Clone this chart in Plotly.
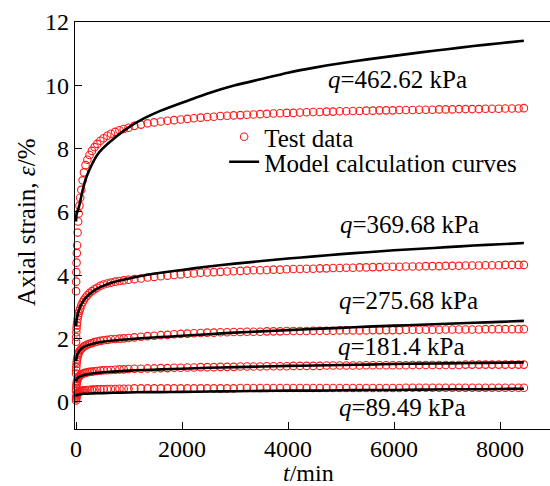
import plotly.graph_objects as go

# ---------------- data ----------------
t_test = [1, 3, 6, 10, 15, 20, 30, 40, 50, 65, 80, 100, 125, 150, 180, 215, 255, 300,
          350, 400, 460, 520, 590, 660, 740, 820, 900, 990,
          1100, 1225, 1350, 1475, 1600, 1725, 1850, 1975, 2100, 2225, 2350, 2475,
          2600, 2725, 2850, 2975, 3100, 3225, 3350, 3475, 3600, 3725, 3850, 3975,
          4100, 4225, 4350, 4475, 4600, 4725, 4850, 4975, 5100, 5225, 5350, 5475,
          5600, 5725, 5850, 5975, 6100, 6225, 6350, 6475, 6600, 6725, 6850, 6975,
          7100, 7225, 7350, 7475, 7600, 7725, 7850, 7975, 8100, 8225, 8350, 8450]

test_462 = [3.5, 3.8, 4.1, 4.4, 4.7, 4.95, 5.35, 5.7, 5.95, 6.2, 6.45, 6.7, 7.0, 7.25,
            7.48, 7.65, 7.8, 7.93, 8.05, 8.15, 8.25, 8.33, 8.41, 8.47, 8.53, 8.58, 8.62, 8.66,
            8.72, 8.76, 8.8, 8.83, 8.86, 8.88, 8.9, 8.92, 8.94, 8.96, 8.98, 9.0,
            9.01, 9.03, 9.04, 9.05, 9.06, 9.07, 9.08, 9.09, 9.1, 9.11, 9.12, 9.13,
            9.13, 9.14, 9.15, 9.16, 9.16, 9.17, 9.17, 9.18, 9.18, 9.19, 9.19, 9.2,
            9.2, 9.21, 9.21, 9.21, 9.22, 9.22, 9.22, 9.23, 9.23, 9.23, 9.24, 9.24,
            9.24, 9.25, 9.25, 9.25, 9.25, 9.26, 9.26, 9.26, 9.27, 9.27, 9.27, 9.28]

test_369 = [1.9, 2.05, 2.2, 2.32, 2.42, 2.5, 2.62, 2.72, 2.8, 2.88, 2.95, 3.05, 3.15, 3.23,
            3.3, 3.37, 3.44, 3.5, 3.56, 3.61, 3.67, 3.71, 3.74, 3.77, 3.8, 3.82, 3.84, 3.86,
            3.88, 3.9, 3.93, 3.95, 3.97, 3.99, 4.01, 4.03, 4.05, 4.06, 4.08, 4.09,
            4.1, 4.11, 4.12, 4.13, 4.14, 4.15, 4.16, 4.16, 4.17, 4.18, 4.18, 4.19,
            4.2, 4.2, 4.21, 4.21, 4.22, 4.22, 4.23, 4.23, 4.24, 4.24, 4.25, 4.25,
            4.26, 4.26, 4.27, 4.27, 4.27, 4.28, 4.28, 4.28, 4.29, 4.29, 4.29, 4.3,
            4.3, 4.3, 4.31, 4.31, 4.31, 4.32, 4.32, 4.32, 4.33, 4.33, 4.33, 4.33]

test_275 = [0.9, 1.0, 1.1, 1.2, 1.28, 1.35, 1.43, 1.5, 1.55, 1.6, 1.64, 1.68, 1.72, 1.75,
            1.78, 1.81, 1.84, 1.86, 1.89, 1.91, 1.93, 1.95, 1.96, 1.98, 1.99, 2.0, 2.01, 2.02,
            2.04, 2.06, 2.08, 2.09, 2.11, 2.12, 2.14, 2.15, 2.16, 2.17, 2.18, 2.19,
            2.19, 2.2, 2.2, 2.21, 2.21, 2.22, 2.22, 2.22, 2.23, 2.23, 2.23, 2.24,
            2.24, 2.24, 2.24, 2.25, 2.25, 2.25, 2.25, 2.26, 2.26, 2.26, 2.26, 2.26,
            2.27, 2.27, 2.27, 2.27, 2.27, 2.28, 2.28, 2.28, 2.28, 2.28, 2.28, 2.29,
            2.29, 2.29, 2.29, 2.29, 2.29, 2.3, 2.3, 2.3, 2.3, 2.3, 2.3, 2.3]

test_181 = [0.35, 0.42, 0.5, 0.56, 0.62, 0.66, 0.72, 0.76, 0.79, 0.82, 0.85, 0.87, 0.89, 0.91,
            0.92, 0.94, 0.95, 0.96, 0.97, 0.98, 0.99, 1.0, 1.0, 1.01, 1.02, 1.03, 1.03, 1.04,
            1.05, 1.05, 1.06, 1.06, 1.07, 1.07, 1.08, 1.08, 1.09, 1.09, 1.1, 1.1,
            1.1, 1.11, 1.11, 1.11, 1.12, 1.12, 1.12, 1.12, 1.13, 1.13, 1.13, 1.13,
            1.14, 1.14, 1.14, 1.14, 1.14, 1.15, 1.15, 1.15, 1.15, 1.15, 1.15, 1.16,
            1.16, 1.16, 1.16, 1.16, 1.16, 1.16, 1.17, 1.17, 1.17, 1.17, 1.17, 1.17,
            1.17, 1.17, 1.18, 1.18, 1.18, 1.18, 1.18, 1.18, 1.18, 1.18, 1.18, 1.18]

test_89 = [0.05, 0.1, 0.15, 0.19, 0.22, 0.25, 0.28, 0.3, 0.32, 0.33, 0.34, 0.35, 0.36, 0.37,
           0.37, 0.38, 0.38, 0.39, 0.39, 0.4, 0.4, 0.4, 0.41, 0.41, 0.41, 0.42, 0.42, 0.42,
           0.43, 0.43, 0.43, 0.43, 0.43, 0.43, 0.43, 0.43, 0.43, 0.43, 0.43, 0.43,
           0.43, 0.43, 0.43, 0.43, 0.44, 0.44, 0.44, 0.44, 0.44, 0.44, 0.44, 0.44,
           0.44, 0.44, 0.44, 0.44, 0.44, 0.44, 0.44, 0.44, 0.44, 0.44, 0.44, 0.44,
           0.44, 0.44, 0.44, 0.44, 0.44, 0.45, 0.45, 0.45, 0.45, 0.45, 0.45, 0.45,
           0.45, 0.45, 0.45, 0.45, 0.45, 0.45, 0.45, 0.45, 0.45, 0.45, 0.45, 0.45]

t_model = [1, 5, 10, 20, 40, 70, 100, 150, 200, 300, 400, 500, 700, 1000, 1300, 1600,
           2000, 2500, 3000, 3500, 4000, 4500, 5000, 5500, 6000, 6500, 7000, 7500, 8000, 8450]

model_462 = [5.7, 5.85, 5.92, 5.98, 6.08, 6.26, 6.5, 6.85, 7.12, 7.5, 7.8, 8.0, 8.3, 8.68,
             8.97, 9.2, 9.45, 9.75, 10.0, 10.2, 10.4, 10.56, 10.7, 10.82, 10.93, 11.04,
             11.14, 11.24, 11.33, 11.41]
model_369 = [2.4, 2.5, 2.58, 2.68, 2.82, 2.97, 3.08, 3.22, 3.32, 3.47, 3.58, 3.66, 3.78, 3.9,
             4.0, 4.08, 4.17, 4.28, 4.37, 4.45, 4.53, 4.6, 4.67, 4.73, 4.79, 4.84, 4.89,
             4.94, 4.98, 5.02]
model_275 = [1.28, 1.34, 1.4, 1.47, 1.55, 1.63, 1.68, 1.74, 1.78, 1.83, 1.87, 1.9, 1.94, 1.98,
             2.02, 2.05, 2.09, 2.14, 2.19, 2.23, 2.27, 2.31, 2.34, 2.38, 2.41, 2.44, 2.47,
             2.5, 2.53, 2.56]
model_181 = [0.65, 0.68, 0.71, 0.74, 0.77, 0.8, 0.82, 0.85, 0.87, 0.9, 0.92, 0.94, 0.96, 0.99,
             1.01, 1.03, 1.05, 1.08, 1.1, 1.12, 1.14, 1.15, 1.17, 1.18, 1.2, 1.21, 1.22,
             1.23, 1.24, 1.25]
model_89 = [0.18, 0.2, 0.21, 0.22, 0.23, 0.24, 0.25, 0.26, 0.26, 0.27, 0.28, 0.28, 0.29, 0.3,
            0.31, 0.31, 0.32, 0.33, 0.34, 0.35, 0.36, 0.36, 0.37, 0.38, 0.38, 0.39, 0.4,
            0.4, 0.41, 0.42]

labels = ["<i>q</i>=462.62 kPa", "<i>q</i>=369.68 kPa", "<i>q</i>=275.68 kPa",
          "<i>q</i>=181.4 kPa", "<i>q</i>=89.49 kPa"]
label_t = [6057, 6283, 6264, 6132, 6151]
label_v = [10.17, 5.59, 3.22, 1.74, -0.16]

x_ticks = [0, 2000, 4000, 6000, 8000]
y_ticks = [0, 2, 4, 6, 8, 10, 12]

# ---------------- figure ----------------
FONT = "Liberation Serif, Times New Roman, serif"
RED = "#ff1a1a"

fig = go.Figure()

tests = [test_462, test_369, test_275, test_181, test_89]
models = [model_462, model_369, model_275, model_181, model_89]

for i, ys in enumerate(tests):
    fig.add_trace(go.Scatter(
        x=t_test, y=ys, mode="markers", name="Test data",
        legend="legend", showlegend=(i == 0),
        marker=dict(symbol="circle-open", size=7.5, color=RED, line=dict(width=1.1, color=RED)),
        cliponaxis=False))

for i, ys in enumerate(models):
    fig.add_trace(go.Scatter(
        x=t_model, y=ys, mode="lines", name="Model calculation curves",
        legend="legend2", showlegend=(i == 0),
        line=dict(color="black", width=2.6, shape="spline", smoothing=0.6)))

for txt, tx, ty in zip(labels, label_t, label_v):
    fig.add_annotation(x=tx, y=ty, text=txt, showarrow=False, xanchor="center",
                       yanchor="middle", font=dict(family=FONT, size=25, color="black"))

# axis titles
fig.add_annotation(xref="paper", yref="paper", x=(308 - 75) / 475, y=(429 - 473) / 407,
                   text="<i>t</i>/min", showarrow=False, xanchor="center", yanchor="middle",
                   font=dict(family=FONT, size=24, color="black"))
fig.add_annotation(xref="paper", yref="paper", x=(26 - 75) / 475, y=(429 - 223) / 407,
                   text="Axial strain, <i>ε</i>/%", textangle=-90, showarrow=False,
                   xanchor="center", yanchor="middle",
                   font=dict(family=FONT, size=25, color="black"))

leg_common = dict(xanchor="left", yanchor="middle", bgcolor="rgba(0,0,0,0)",
                  font=dict(family=FONT, size=25), itemwidth=30)
fig.update_layout(
    width=550, height=486,
    margin=dict(l=75, r=0, t=22, b=57),
    paper_bgcolor="white", plot_bgcolor="white",
    font=dict(family=FONT, size=24, color="black"),
    showlegend=True,
    legend=dict(x=0.314, y=(429 - 137) / 407, **leg_common),
    legend2=dict(x=0.314, y=(429 - 162) / 407, **leg_common),
)

fig.update_xaxes(
    range=[-19, 8943], tickmode="array", tickvals=x_ticks,
    ticks="inside", ticklen=7, tickwidth=1.2, tickcolor="black",
    showline=True, linecolor="black", linewidth=1.2, mirror=True,
    showgrid=False, zeroline=False, automargin=False,
    tickfont=dict(family=FONT, size=24), ticklabelstandoff=-2,
)
fig.update_yaxes(
    range=[-0.853, 12], tickmode="array", tickvals=y_ticks,
    ticks="inside", ticklen=7, tickwidth=1.2, tickcolor="black",
    showline=True, linecolor="black", linewidth=1.2, mirror=False,
    showgrid=False, zeroline=False, automargin=False,
    tickfont=dict(family=FONT, size=24),
)

fig.write_html(
    "out.html", config={"displayModeBar": False},
    post_script=("document.body.style.margin='0px';"
                 "document.body.style.overflow='hidden';"
                 "document.documentElement.style.overflow='hidden';"))
